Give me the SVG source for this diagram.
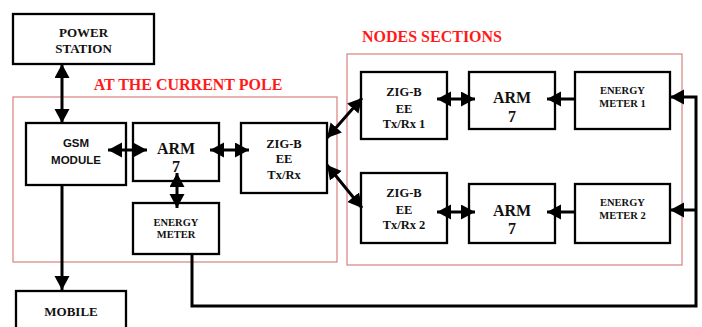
<svg xmlns="http://www.w3.org/2000/svg" width="702" height="327" viewBox="0 0 702 327">
<defs>
<marker id="ah" markerUnits="userSpaceOnUse" markerWidth="16" markerHeight="16" refX="14" refY="7.5" orient="auto-start-reverse"><path d="M0,0 L14,7.5 L0,15 z" fill="#000"/></marker>
<style>
.box{fill:#fff;stroke:#000;stroke-width:2.3}
.frame{fill:none;stroke:#d98080;stroke-width:1.2}
.t{font-family:"Liberation Serif","Times New Roman",serif;font-weight:bold;text-anchor:middle;fill:#111}
.s{font-family:"Liberation Sans",Arial,sans-serif;font-weight:bold;text-anchor:middle;fill:#111}
.red{font-family:"Liberation Serif","Times New Roman",serif;font-weight:bold;text-anchor:middle;fill:#ff1a1a;font-size:16px}
.c{fill:none;stroke:#000;stroke-width:3}
.bi{marker-start:url(#ah);marker-end:url(#ah)}
.uni{marker-end:url(#ah)}
</style>
</defs>
<rect width="702" height="327" fill="#fff"/>
<g id="frames">
<rect class="frame" x="13" y="97" width="324" height="165"/>
<rect class="frame" x="347" y="54" width="335" height="211"/>
<text class="red" x="188" y="90">AT THE CURRENT POLE</text>
<text class="red" x="432" y="41.5">NODES SECTIONS</text>
</g>
<g id="power"><rect class="box" x="13" y="14" width="141" height="50"/><text class="t" font-size="13" x="83.5" y="37.3">POWER</text><text class="t" font-size="13" x="83.5" y="53.3">STATION</text></g>
<g id="gsm"><rect class="box" x="26" y="123" width="100" height="62"/><text class="s" font-size="11.5" x="76" y="147">GSM</text><text class="s" font-size="11.5" x="76" y="164">MODULE</text></g>
<g id="arm"><rect class="box" x="133" y="123" width="86" height="58"/><text class="t" font-size="16" x="176" y="154">ARM</text><text class="t" font-size="16" x="176" y="172">7</text></g>
<g id="zigb"><rect class="box" x="241" y="123" width="86" height="70"/><text class="t" font-size="12.5" x="284" y="148">ZIG-B</text><text class="t" font-size="12.5" x="284" y="163">EE</text><text class="t" font-size="12.5" x="284" y="179">Tx/Rx</text></g>
<g id="meter"><rect class="box" x="133" y="203" width="86" height="51"/><text class="t" font-size="10.5" x="176" y="226">ENERGY</text><text class="t" font-size="10.5" x="176" y="237.5">METER</text></g>
<g id="mobile"><rect class="box" x="16" y="291" width="110" height="45"/><text class="t" font-size="13" x="71" y="316">MOBILE</text></g>
<g id="zigb1"><rect class="box" x="361" y="72" width="86" height="67"/><text class="t" font-size="12.5" x="404" y="96">ZIG-B</text><text class="t" font-size="12.5" x="404" y="112.5">EE</text><text class="t" font-size="12.5" x="404" y="128">Tx/Rx 1</text></g>
<g id="arm1"><rect class="box" x="469" y="72" width="86" height="57"/><text class="t" font-size="16" x="512" y="103">ARM</text><text class="t" font-size="16" x="512" y="122">7</text></g>
<g id="meter1"><rect class="box" x="575" y="72" width="95" height="57"/><text class="t" font-size="10.5" x="622.5" y="94">ENERGY</text><text class="t" font-size="10.5" x="622.5" y="106.5">METER 1</text></g>
<g id="zigb2"><rect class="box" x="361" y="173" width="86" height="70"/><text class="t" font-size="12.5" x="404" y="197">ZIG-B</text><text class="t" font-size="12.5" x="404" y="213.5">EE</text><text class="t" font-size="12.5" x="404" y="229">Tx/Rx 2</text></g>
<g id="arm2"><rect class="box" x="469" y="184" width="86" height="59"/><text class="t" font-size="16" x="512" y="215.5">ARM</text><text class="t" font-size="16" x="512" y="234">7</text></g>
<g id="meter2"><rect class="box" x="575" y="184" width="95" height="59"/><text class="t" font-size="10.5" x="622.5" y="206">ENERGY</text><text class="t" font-size="10.5" x="622.5" y="218.5">METER 2</text></g>
<g id="connectors">
<line class="c bi" x1="62" y1="64" x2="62" y2="123"/>
<line class="c uni" x1="62" y1="185" x2="62" y2="290"/>
<line class="c bi" x1="108" y1="150" x2="147" y2="150"/>
<line class="c bi" x1="210" y1="150" x2="249" y2="150"/>
<line class="c bi" x1="177" y1="173" x2="177" y2="208"/>
<line class="c bi" x1="327" y1="138" x2="362" y2="98"/>
<line class="c bi" x1="327" y1="165" x2="362" y2="208"/>
<line class="c bi" x1="437" y1="99" x2="475" y2="99"/>
<line class="c bi" x1="437" y1="212" x2="475" y2="212"/>
<line class="c uni" x1="575" y1="99" x2="547" y2="99"/>
<line class="c uni" x1="575" y1="212" x2="547" y2="212"/>
<polyline class="c uni" points="192,254 192,306 696,306 696,97 670,97"/>
<line class="c uni" x1="696" y1="210" x2="670" y2="210"/>
</g>
</svg>
